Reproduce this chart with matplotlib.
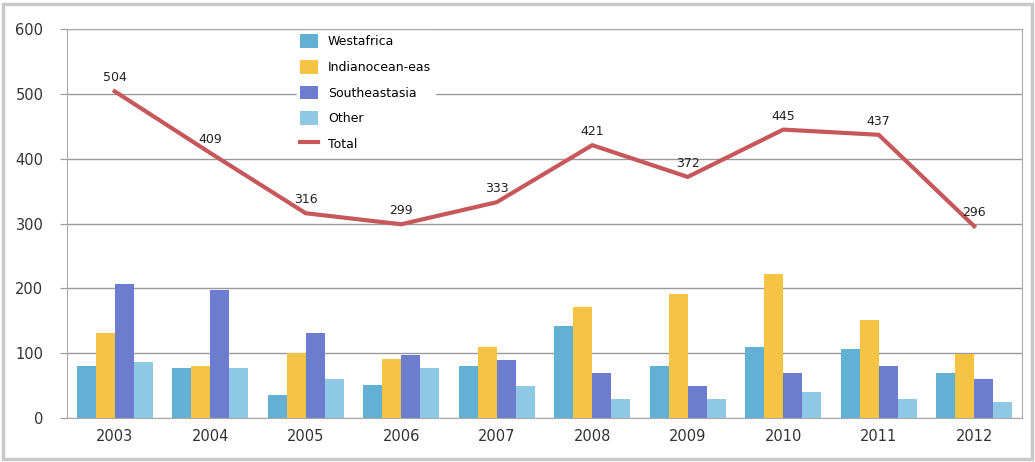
import numpy as np
import matplotlib.pyplot as plt
from matplotlib.patches import Rectangle

# Data
years = ['2003', '2004', '2005', '2006', '2007', '2008', '2009', '2010', '2011', '2012']
westafrica = [80, 77, 35, 51, 80, 142, 80, 110, 106, 70]
indianocean = [131, 80, 100, 91, 110, 172, 192, 222, 152, 99]
southeastasia = [207, 197, 132, 97, 90, 70, 50, 70, 80, 60]
other = [86, 77, 61, 77, 50, 30, 30, 40, 30, 25]
total = [504, 409, 316, 299, 333, 421, 372, 445, 437, 296]

series = [
    ('Westafrica', westafrica, '#62b0d4'),
    ('Indianocean-eas', indianocean, '#f5c444'),
    ('Southeastasia', southeastasia, '#6c7ccf'),
    ('Other', other, '#8fc8e4'),
]

plt.rcParams['font.family'] = ['DejaVu Sans']

fig = plt.figure(figsize=(10.35, 4.62), dpi=100)
ax = fig.add_axes([0.0647, 0.095, 0.9227, 0.842])

x = np.arange(len(years))
w = 0.2
handles = []
for i, (name, vals, col) in enumerate(series):
    h = ax.bar(x + (i - 1.5) * w, vals, width=w, color=col, label=name, zorder=2)
    handles.append(h)

ln, = ax.plot(x, total, color='#c6585c', lw=3, label='Total', zorder=3)
handles.append(ln)
for xi, v in zip(x, total):
    ax.annotate(str(v), (xi, v), xytext=(0, 5), textcoords='offset points',
                ha='center', va='bottom', fontsize=9, color='#222222', zorder=4)

ax.set_xlim(-0.5, len(years) - 0.5)
ax.set_ylim(0, 600)
ax.set_yticks(range(0, 601, 100))
ax.set_xticks(x)
ax.set_xticklabels(years)
ax.yaxis.grid(True, color='#999999', lw=1, zorder=0)
ax.set_axisbelow(True)
ax.tick_params(axis='x', labelsize=10.5, colors='#333333', length=0, pad=8)
ax.tick_params(axis='y', labelsize=10.5, labelcolor='#333333', length=5,
               color='#999999', direction='out', pad=12)
for s in ['left', 'bottom', 'right', 'top']:
    ax.spines[s].set_color('#aaaaaa')

leg = ax.legend(handles=handles, loc='upper left', bbox_to_anchor=(0.234, 1.012),
                frameon=True, fontsize=9, handlelength=1.4, handleheight=1.3,
                labelspacing=0.93, borderpad=0.3)
leg.get_frame().set_edgecolor('white')
leg.get_frame().set_facecolor('white')
leg.get_frame().set_alpha(1)
leg.set_zorder(5)

# outer frame
fig.patches.append(Rectangle((0.003, 0.006), 0.994, 0.985, transform=fig.transFigure,
                             fill=False, edgecolor='#c8c8c8', lw=2.5))

fig.savefig('out.png', dpi=100)
